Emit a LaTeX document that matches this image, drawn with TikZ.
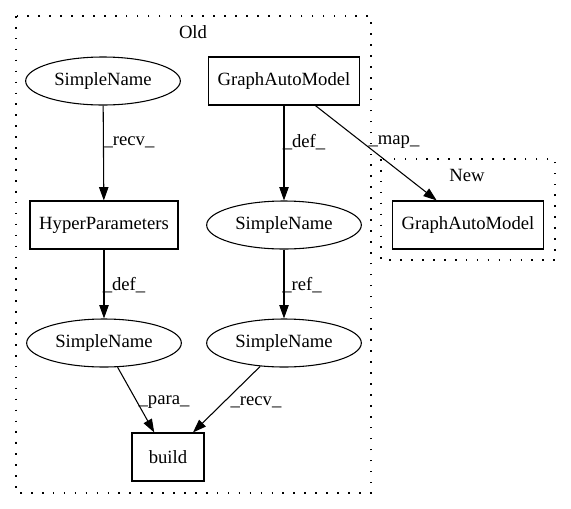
\documentclass[tikz,border=0pt]{standalone}
\usepackage{fontspec}
\setmainfont{Liberation Serif}
\usetikzlibrary{shapes.geometric,arrows.meta}

\begin{document}
\begin{tikzpicture}[x=0.75pt,y=-0.75pt,
    every node/.style={font=\fontsize{14pt}{16pt}\selectfont},
    boxnode/.style={draw,line width=0.8pt,minimum height=36pt,inner sep=0pt},
    ellnode/.style={draw,ellipse,line width=0.8pt,minimum height=36pt,minimum width=116pt,inner sep=0pt},
    link/.style={draw,line width=0.8pt,-{Triangle[length=10pt,width=7pt]}},
    lbl/.style={inner sep=0pt},
    cluster/.style={draw,line width=0.8pt,dash pattern=on 1.2pt off 7pt}]
    \useasboundingbox (0,0) rectangle (571,508);

    % clusters
    \draw[cluster] (16,16) rectangle (371,493);
    \node (oldlbl) at (193,32) {Old};
    \draw[cluster] (381,159) rectangle (555,260);
    \node (newlbl) at (467,175) {New};

    % old nodes
    \node[ellnode] (sn1) at (103,81) {SimpleName};
    \node[boxnode, minimum width=113pt] (gam) at (284,81) {GraphAutoModel};
    \node[boxnode, minimum width=111pt] (hyper) at (104,225) {HyperParameters};
    \node[ellnode] (sn2) at (284,225) {SimpleName};
    \node[ellnode] (sn3) at (104,343) {SimpleName};
    \node[ellnode] (sn4) at (284,343) {SimpleName};
    \node[boxnode, minimum width=54pt] (build) at (168,457) {build};

    % new node
    \node[boxnode, minimum width=113pt] (gamnew) at (468,225) {GraphAutoModel};

    % edges
    \draw[link] (sn1) -- (hyper);
    \draw[link] (gam) -- (sn2);
    \draw[link] (gam) -- (gamnew);
    \draw[link] (hyper) -- (sn3);
    \draw[link] (sn2) -- (sn4);
    \draw[link] (sn3) -- (build);
    \draw[link] (sn4) -- (build);

    % edge labels
    \node[lbl] (lrecv) at (129,142) {\_recv\_};
    \node[lbl] (ldef) at (304,142) {\_def\_};
    \node[lbl] (lmap) at (394,142) {\_map\_};
    \node[lbl] (ldefb) at (124,285) {\_def\_};
    \node[lbl] (lref) at (302,285) {\_ref\_};
    \node[lbl] (lpara) at (164,402) {\_para\_};
    \node[lbl] (lrecvb) at (256,402) {\_recv\_};
\end{tikzpicture}
\end{document}
